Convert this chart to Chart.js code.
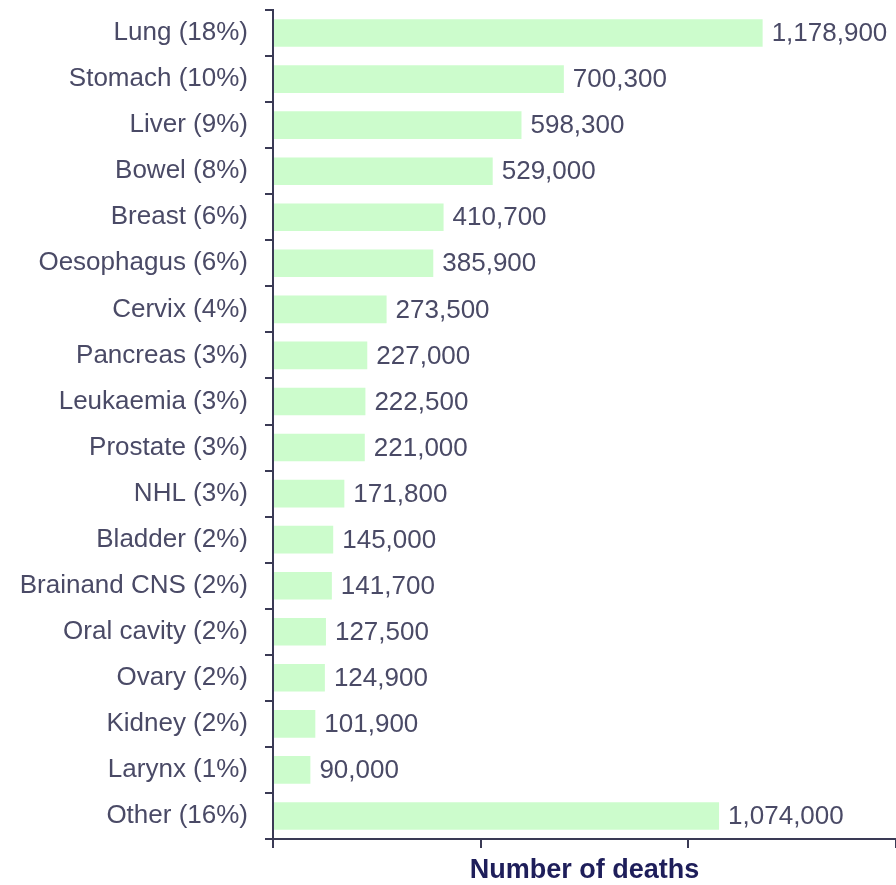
<!DOCTYPE html>
<html>
<head>
<meta charset="utf-8">
<script src="https://cdn.jsdelivr.net/npm/chart.js@4/dist/chart.umd.min.js"></script>
<style>
  html, body { margin: 0; padding: 0; background: #fff; }
  #wrap { width: 896px; height: 885px; position: relative; }
</style>
</head>
<body>
<div id="wrap"><canvas id="deathsChart"></canvas></div>
<script>
// cancer sites, with share of all deaths
const sites = [
  'Lung (18%)', 'Stomach (10%)', 'Liver (9%)', 'Bowel (8%)', 'Breast (6%)',
  'Oesophagus (6%)', 'Cervix (4%)', 'Pancreas (3%)', 'Leukaemia (3%)',
  'Prostate (3%)', 'NHL (3%)', 'Bladder (2%)', 'Brainand CNS (2%)',
  'Oral cavity (2%)', 'Ovary (2%)', 'Kidney (2%)', 'Larynx (1%)', 'Other (16%)'
];
const deaths = [
  1178900, 700300, 598300, 529000, 410700,
  385900, 273500, 227000, 222500,
  221000, 171800, 145000, 141700,
  127500, 124900, 101900, 90000, 1074000
];
const xTicks = [0, 500000, 1000000, 1500000];

const textColor = '#4a4a66';
const axisColor = '#3a3a55';
const labelFont = { family: '"Liberation Sans", Arial, sans-serif', size: 26 };

// number printed just past the end of each bar
const valueLabels = {
  id: 'valueLabels',
  afterDatasetsDraw(chart) {
    const ctx = chart.ctx;
    const meta = chart.getDatasetMeta(0);
    ctx.save();
    ctx.font = `${labelFont.size}px ${labelFont.family}`;
    ctx.fillStyle = textColor;
    ctx.textAlign = 'left';
    ctx.textBaseline = 'middle';
    meta.data.forEach((bar, i) => {
      ctx.fillText(deaths[i].toLocaleString('en-US'), bar.x + 9, bar.y + 1);
    });
    ctx.restore();
  }
};

new Chart(document.getElementById('deathsChart'), {
  type: 'bar',
  data: {
    labels: sites,
    datasets: [{
      data: deaths,
      backgroundColor: '#ccfccc',
      borderWidth: 0,
      categoryPercentage: 1,
      barPercentage: 0.6
    }]
  },
  plugins: [valueLabels],
  options: {
    indexAxis: 'y',
    responsive: true,
    maintainAspectRatio: false,
    animation: false,
    layout: { padding: { top: 10, right: 0, bottom: 0, left: 0 } },
    plugins: {
      legend: { display: false },
      tooltip: { enabled: false }
    },
    scales: {
      x: {
        min: 0,
        max: 1500000,
        afterBuildTicks: scale => { scale.ticks = xTicks.map(v => ({ value: v })); },
        afterFit: scale => {
          scale.height = 46;
          scale.paddingLeft = 0;
          scale.paddingRight = 0;
        },
        border: { color: axisColor, width: 2 },
        grid: { drawOnChartArea: false, drawTicks: true, tickLength: 9, color: axisColor, lineWidth: 2 },
        ticks: { callback: () => '', padding: 0 },
        title: {
          display: true,
          text: 'Number of deaths',
          color: '#1e1e5a',
          font: { family: '"Liberation Sans", Arial, sans-serif', size: 27, weight: 'bold', lineHeight: 1.1 },
          padding: { top: 0, bottom: 0 }
        }
      },
      y: {
        afterFit: scale => {
          scale.width = 273;
          scale.paddingTop = 0;
          scale.paddingBottom = 0;
        },
        border: { color: axisColor, width: 2 },
        grid: { drawOnChartArea: false, drawTicks: true, tickLength: 8, color: axisColor, lineWidth: 2 },
        ticks: { color: textColor, font: labelFont, padding: 17, autoSkip: false }
      }
    }
  }
});
</script>
</body>
</html>
